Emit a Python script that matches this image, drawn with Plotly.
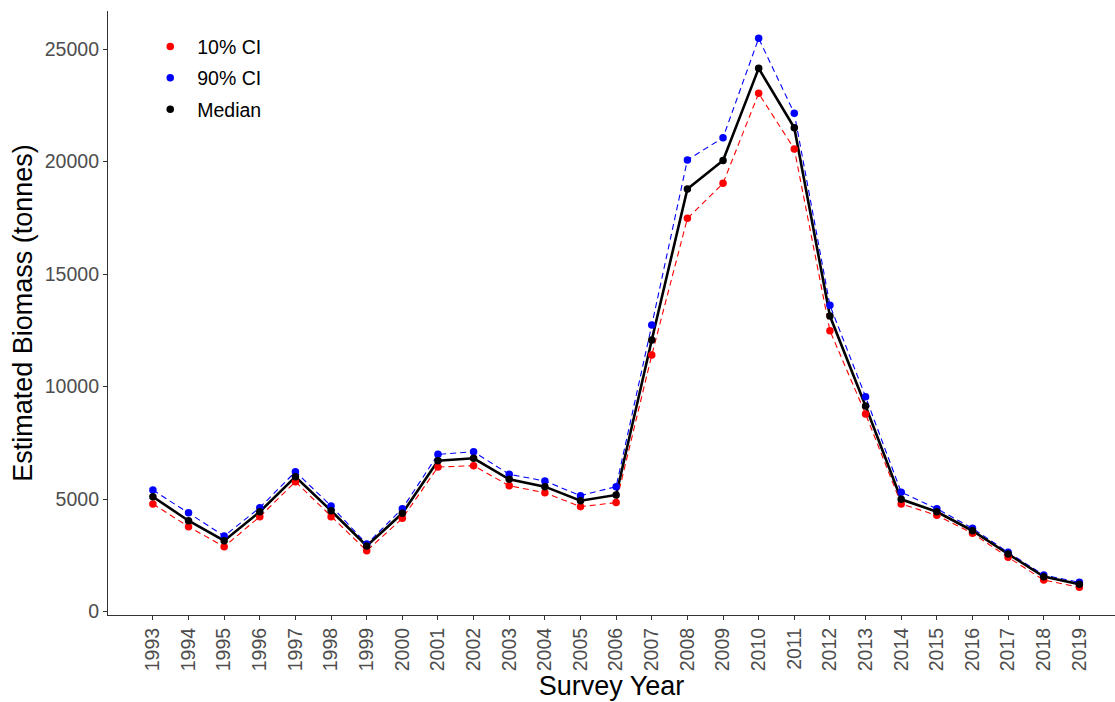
import plotly.graph_objects as go

# Survey biomass estimates (tonnes) by year
years = list(range(1993, 2020))
ci10 = [4780, 3770, 2880, 4215, 5770, 4215, 2700, 4140, 6420, 6480, 5590, 5280, 4660, 4840,
        11400, 17475, 19030, 23030, 20555, 12480, 8780, 4780, 4275, 3475, 2410, 1400, 1075]
ci90 = [5400, 4390, 3355, 4615, 6215, 4690, 3000, 4570, 6985, 7100, 6100, 5800, 5150, 5550,
        12730, 20070, 21060, 25475, 22140, 13610, 9545, 5300, 4570, 3700, 2630, 1620, 1300]
median = [5100, 4035, 3150, 4435, 5990, 4480, 2910, 4365, 6700, 6810, 5875, 5550, 4925, 5180,
          12070, 18780, 20050, 24140, 21500, 13130, 9130, 4985, 4435, 3590, 2555, 1550, 1210]
y_ticks = [0, 5000, 10000, 15000, 20000, 25000]

series = [
    ("10% CI", ci10, "#FF0000", "dash"),
    ("90% CI", ci90, "#0000FF", "dash"),
    ("Median", median, "#000000", "solid"),
]

fig = go.Figure()

# connecting lines (not shown in legend)
for name, vals, color, dash in series:
    fig.add_trace(go.Scatter(
        x=years, y=vals, mode="lines", showlegend=False, hoverinfo="skip",
        line=dict(color=color, width=2.6 if dash == "solid" else 1.1,
                  dash="solid" if dash == "solid" else "6px,4px"),
    ))

# point markers (legend entries)
for name, vals, color, dash in series:
    fig.add_trace(go.Scatter(
        x=years, y=vals, mode="markers", name=name, legendgroup=name,
        marker=dict(color=color, size=7.5),
    ))

font_family = "Liberation Sans, Arial, sans-serif"
axis_common = dict(
    showgrid=False, zeroline=False, showline=True, linecolor="#333333", linewidth=1.2,
    ticks="outside", ticklen=4, tickwidth=1.1, tickcolor="#333333",
    tickfont=dict(family=font_family, size=19.5, color="#4D4D4D"),
    mirror=False,
)

fig.update_layout(
    width=1115, height=702,
    margin=dict(l=108, r=0, t=11, b=87),
    paper_bgcolor="white", plot_bgcolor="white",
    font=dict(family=font_family),
    xaxis=dict(axis_common, range=[1991.74, 2020.0], tickmode="array", tickvals=years,
               ticktext=[str(y) for y in years], tickangle=-90,
               title=dict(text="Survey Year", standoff=3,
                          font=dict(size=27, color="black"))),
    yaxis=dict(axis_common, range=[-155, 26690], tickmode="array",
               tickvals=y_ticks, ticktext=[str(v) for v in y_ticks],
               title=dict(text="Estimated Biomass (tonnes)", standoff=4,
                          font=dict(size=27, color="black"))),
    legend=dict(x=0.035, y=0.973, xanchor="left", yanchor="top",
                font=dict(size=19.5, color="black"), bgcolor="rgba(0,0,0,0)",
                tracegroupgap=3, itemsizing="trace", itemwidth=44),
)

fig.write_html("out.html")
